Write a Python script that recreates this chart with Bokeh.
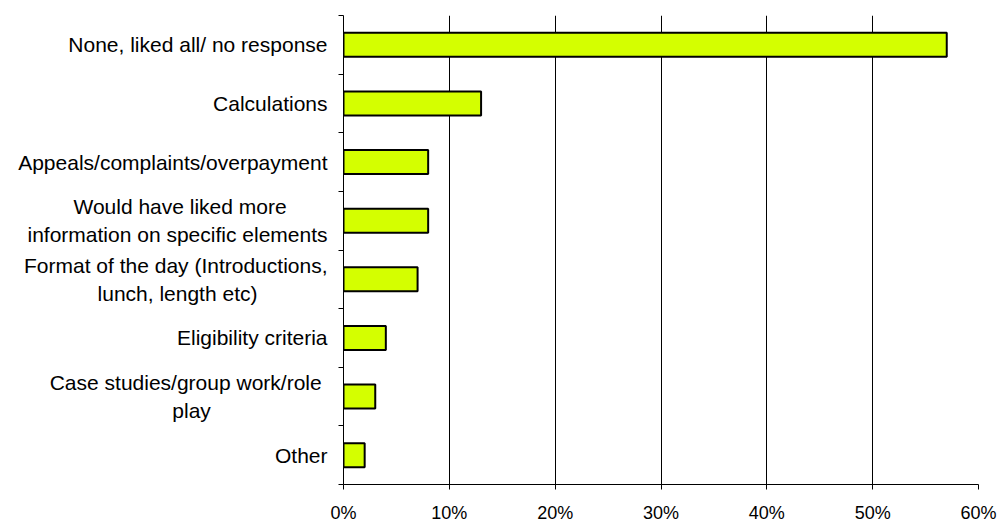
from bokeh.plotting import figure
from bokeh.models import Range1d, FixedTicker, NumeralTickFormatter, ColumnDataSource
from bokeh.embed import file_html
from bokeh.resources import INLINE

categories = [
    "None, liked all/ no response",
    "Calculations",
    "Appeals/complaints/overpayment",
    "Would have liked more\ninformation on specific elements",
    "Format of the day (Introductions,\nlunch, length etc)",
    "Eligibility criteria",
    "Case studies/group work/role\u00a0\nplay",
    "Other",
]
values = [0.57, 0.13, 0.08, 0.08, 0.07, 0.04, 0.03, 0.02]
x_ticks = [0.0, 0.1, 0.2, 0.3, 0.4, 0.5, 0.6]

n = len(categories)
y_pos = [n - i - 0.5 for i in range(n)]
src = ColumnDataSource(dict(y=y_pos, v=values, cat=categories))

FONT = "Liberation Sans"

# approximate Arial / Liberation Sans advance widths (per 1000 em) used to
# centre the lines of the wrapped labels, as the original does
_W = dict(zip("abcdefghijklmnopqrstuvwxyz",
              [556, 556, 500, 556, 556, 278, 556, 556, 222, 222, 500, 222, 833,
               556, 556, 556, 556, 333, 500, 278, 556, 500, 722, 500, 500, 500]))
_W.update({" ": 278, "\u00a0": 278, ",": 278, "/": 278, "(": 333, ")": 333,
           "W": 944, "F": 611, "C": 722, "I": 278})


def _width(s):
    return sum(_W.get(ch, 667) for ch in s)


def centre_lines(label):
    lines = label.split("\n")
    if len(lines) == 1:
        return label
    widest = max(_width(l) for l in lines)
    out = []
    for l in lines:
        pad = int(round((widest - _width(l)) / 2 / 278))
        out.append(l + "\u00a0" * pad)
    return "\n".join(out)


p = figure(width=1001, height=525, output_backend="svg", toolbar_location=None,
           x_range=Range1d(0, x_ticks[-1]), y_range=Range1d(0, n),
           min_border_left=343, min_border_right=23, min_border_top=15,
           min_border_bottom=36)
p.outline_line_color = None
p.background_fill_color = "white"
p.border_fill_color = "white"

p.hbar(y="y", left=0, right="v", height=0.41, source=src,
       fill_color="#D4FF00", line_color="black", line_width=2)

xa = p.xaxis[0]
xa.ticker = FixedTicker(ticks=x_ticks)
xa.formatter = NumeralTickFormatter(format="0%")
xa.major_tick_in = 0
xa.major_tick_out = 5
xa.minor_tick_line_color = None
xa.axis_line_color = "black"
xa.major_tick_line_color = "black"
xa.major_label_text_font = FONT
xa.major_label_text_font_size = "18px"
xa.major_label_text_color = "black"
xa.major_label_standoff = 13

ya = p.yaxis[0]
ya.ticker = FixedTicker(ticks=y_pos, minor_ticks=list(range(n + 1)))
ya.major_label_overrides = {yv: centre_lines(c) for yv, c in zip(y_pos, categories)}
ya.major_tick_in = 0
ya.major_tick_out = 0
ya.major_tick_line_color = None
ya.minor_tick_in = 0
ya.minor_tick_out = 5
ya.minor_tick_line_color = "black"
ya.axis_line_color = "black"
ya.major_label_text_font = FONT
ya.major_label_text_font_size = "21px"
ya.major_label_text_color = "black"
ya.major_label_text_line_height = 1.2
ya.major_label_standoff = 11

p.xgrid.ticker = FixedTicker(ticks=x_ticks[1:])
p.xgrid.grid_line_color = "black"
p.ygrid.grid_line_color = None

open("out.html", "w").write(file_html(p, INLINE))
